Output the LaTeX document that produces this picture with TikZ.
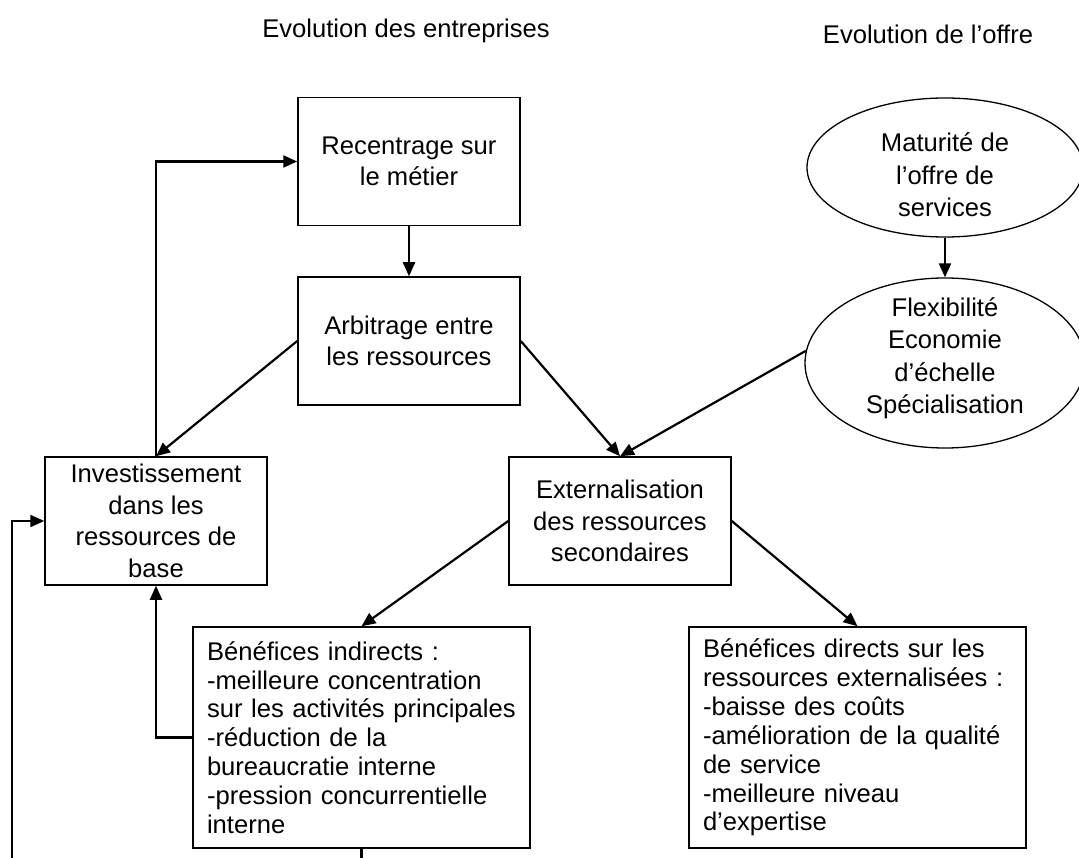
\documentclass[tikz,border=0pt]{standalone}
\usepackage{fontspec}
\setmainfont{Liberation Sans}
\usetikzlibrary{shapes.geometric,arrows.meta,calc}
\begin{document}
\begin{tikzpicture}[x=1pt,y=1pt,
  every node/.style={font=\fontsize{25.6}{31.5}\selectfont},
  box/.style={draw,line width=1.5pt,rectangle,minimum width=222pt,minimum height=128pt,align=center,inner sep=0pt},
  listbox/.style={draw,line width=1.5pt,rectangle,minimum width=337pt,minimum height=221pt,text width=309pt,align=left,inner sep=0pt,font=\fontsize{25.6}{28.9}\selectfont},
  oval/.style={draw,line width=1.3pt,ellipse,minimum width=276pt,minimum height=139pt,inner sep=0pt},
  ovaltext/.style={align=center,inner sep=0pt,font=\fontsize{25.6}{32.5}\selectfont},
  conn/.style={line width=2.2pt,-{Triangle[length=14pt,width=12pt]}},
  plainline/.style={line width=2.2pt}]
\useasboundingbox (0,0) rectangle (1079,-858);
\fill[white] (0,0) rectangle (1079,-858);
\clip (0,0) rectangle (1079,-858);

\node (t1) at (406,-31) {Evolution des entreprises};
\node (t2) at (928,-34) {Evolution de l’offre};

\node[box] (rec) at (409,-161.5) {Recentrage sur\\le métier};
\node[box] (arb) at (409,-341) {Arbitrage entre\\les ressources};
\node[box] (inv) at (156,-521) {Investissement\\dans les\\ressources de\\base};
\node[box] (ext) at (620,-521) {Externalisation\\des ressources\\secondaires};
\node[listbox] (ind) at (361.5,-737.5) {Bénéfices indirects :\\-meilleure concentration\\sur les activités principales\\-réduction de la\\bureaucratie interne\\-pression concurrentielle\\interne};
\node[listbox] (dir) at (857.5,-737.5) {Bénéfices directs sur les\\ressources externalisées :\\-baisse des coûts\\-amélioration de la qualité\\de service\\-meilleure niveau\\d’expertise};
\node[oval] (mat) at (945,-167.5) {};
\node[ovaltext] (matt) at (945,-175) {Maturité de\\l’offre de\\services};
\node[oval,minimum width=280pt,minimum height=170pt] (flex) at (945,-363) {};
\node[ovaltext] (flext) at (945,-358) {Flexibilité\\Economie\\d’échelle\\Spécialisation};

\draw[conn] (rec.south) -- (arb.north);
\draw[conn] (mat.south) -- (flex.north);
\draw[conn] (arb.west) -- (inv.north);
\draw[conn] (arb.east) -- (ext.north);
\draw[conn] (flex.175) -- (ext.north);
\draw[conn] (ext.west) -- (ind.north);
\draw[conn] (ext.east) -- (dir.north);
\draw[conn] (inv.north) |- (rec.west);
\draw[conn] (ind.west) -| (inv.south);
\coordinate (bl) at (12,-862);
\draw[conn] (bl) |- (inv.west);
\coordinate (bm) at (361.5,-862);
\draw[plainline] (ind.south) -- (bm);
\end{tikzpicture}
\end{document}
